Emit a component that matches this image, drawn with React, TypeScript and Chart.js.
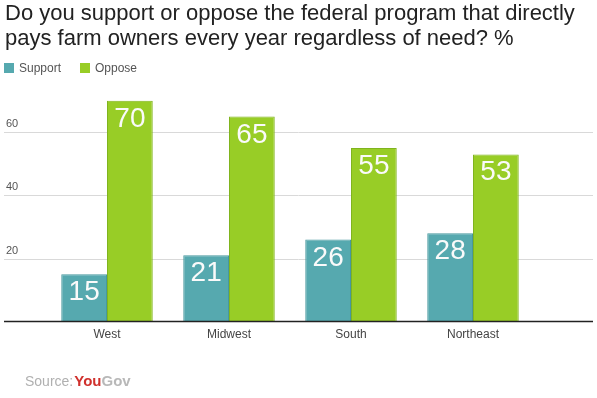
import React, { useEffect, useRef } from "react";
import { Chart, registerables } from "chart.js";

Chart.register(...registerables);

const categories = ["West", "Midwest", "South", "Northeast"];
const supportValues = [15, 21, 26, 28];
const opposeValues = [70, 65, 55, 53];
const gridValues = [20, 40, 60];
const titleLines = [
  "Do you support or oppose the federal program that directly",
  "pays farm owners every year regardless of need? %",
];
const seriesNames = ["Support", "Oppose"];

const FONT = '"Liberation Sans", Arial, sans-serif';
const SUPPORT_FILL = "#56a9af";
const SUPPORT_BORDER = "#48989e";
const OPPOSE_FILL = "#98cd26";
const OPPOSE_BORDER = "#80b41e";

const decorPlugin = {
  id: "decor",
  beforeDatasetsDraw(chart: any) {
    const ctx = chart.ctx;
    const y = chart.scales.y;
    ctx.save();
    gridValues.forEach((v) => {
      const py = Math.round(y.getPixelForValue(v)) + 0.5;
      ctx.strokeStyle = "#d9d9d9";
      ctx.lineWidth = 1;
      ctx.beginPath();
      ctx.moveTo(4, py);
      ctx.lineTo(593, py);
      ctx.stroke();
      ctx.fillStyle = "#555";
      ctx.font = `11px ${FONT}`;
      ctx.textAlign = "left";
      ctx.textBaseline = "alphabetic";
      ctx.fillText(String(v), 6, py - 6);
    });
    ctx.restore();
  },
  afterDatasetsDraw(chart: any) {
    const ctx = chart.ctx;
    const y = chart.scales.y;
    ctx.save();
    const by = y.getPixelForValue(0);
    ctx.strokeStyle = "#222";
    ctx.lineWidth = 1.5;
    ctx.beginPath();
    ctx.moveTo(4, by);
    ctx.lineTo(593, by);
    ctx.stroke();
    ctx.fillStyle = "#fafafa";
    ctx.font = `28px ${FONT}`;
    ctx.textAlign = "center";
    ctx.textBaseline = "alphabetic";
    chart.data.datasets.forEach((ds: any, di: number) => {
      const meta = chart.getDatasetMeta(di);
      meta.data.forEach((el: any, i: number) => {
        ctx.fillText(String(ds.data[i]), el.x, el.y + 26);
      });
    });
    ctx.restore();
  },
  afterDraw(chart: any) {
    const ctx = chart.ctx;
    ctx.save();
    // title
    ctx.fillStyle = "#222";
    ctx.font = `22px ${FONT}`;
    ctx.textAlign = "left";
    ctx.textBaseline = "alphabetic";
    ctx.fillText(titleLines[0], 5, 20);
    ctx.fillText(titleLines[1], 5, 45);
    // legend
    ctx.font = `12px ${FONT}`;
    ctx.textBaseline = "middle";
    const colors = [SUPPORT_FILL, OPPOSE_FILL];
    const xs = [4, 80];
    seriesNames.forEach((n, i) => {
      ctx.fillStyle = colors[i];
      ctx.fillRect(xs[i], 63, 10, 10);
      ctx.fillStyle = "#555";
      ctx.fillText(n, xs[i] + 15, 68.5);
    });
    // source
    ctx.textBaseline = "alphabetic";
    ctx.font = `14px ${FONT}`;
    ctx.fillStyle = "#b0b0b0";
    ctx.fillText("Source:", 25, 386);
    let x = 25 + ctx.measureText("Source:").width + 1;
    ctx.font = `bold 15px ${FONT}`;
    ctx.fillStyle = "#d0312d";
    ctx.fillText("You", x, 386);
    x += ctx.measureText("You").width;
    ctx.fillStyle = "#b8b8b8";
    ctx.fillText("Gov", x, 386);
    ctx.restore();
  },
};

export default function App() {
  const ref = useRef<HTMLCanvasElement>(null);
  useEffect(() => {
    const chart = new Chart(ref.current!, {
      type: "bar",
      data: {
        labels: categories,
        datasets: [
          {
            label: seriesNames[0],
            data: supportValues,
            backgroundColor: SUPPORT_FILL,
            borderColor: SUPPORT_BORDER,
            borderWidth: 1,
          },
          {
            label: seriesNames[1],
            data: opposeValues,
            backgroundColor: OPPOSE_FILL,
            borderColor: OPPOSE_BORDER,
            borderWidth: 1,
          },
        ],
      },
      options: {
        animation: false,
        responsive: false,
        maintainAspectRatio: false,
        layout: { padding: { left: 46, right: 63, top: 85, bottom: 50 } },
        datasets: { bar: { categoryPercentage: 0.75, barPercentage: 1 } },
        plugins: {
          legend: { display: false },
          title: { display: false },
          tooltip: { enabled: false },
        },
        scales: {
          x: {
            grid: { display: false, drawTicks: false },
            border: { display: false },
            ticks: { color: "#444", font: { family: FONT, size: 12 }, padding: 6 },
          },
          y: { display: false, min: 0, max: 75 },
        },
      },
      plugins: [decorPlugin],
    });
    return () => chart.destroy();
  }, []);
  return (
    <div style={{ position: "fixed", left: 0, top: 0, width: 597, height: 398, background: "#fff" }}>
      <canvas ref={ref} width={597} height={398} style={{ width: 597, height: 398 }} />
    </div>
  );
}
